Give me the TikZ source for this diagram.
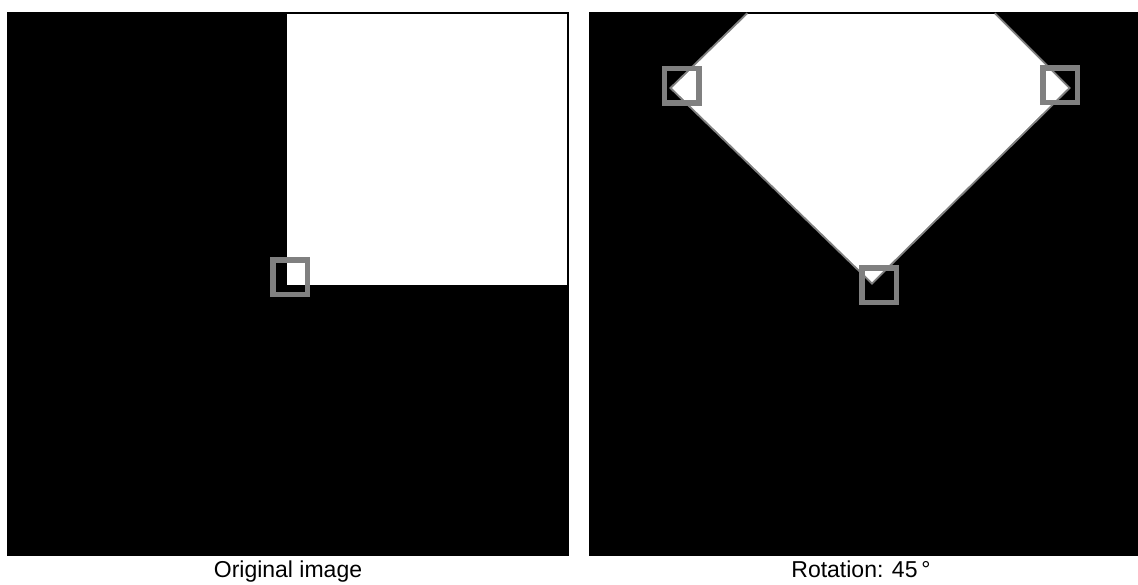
\documentclass[tikz,border=0pt]{standalone}
\usepackage{fontspec}
\setmainfont{Liberation Sans}
\definecolor{mk}{RGB}{128,128,128}
\begin{document}
\begin{tikzpicture}[x=1pt,y=-1pt,
  marker/.style={draw=mk,line width=5.5pt},
  caption/.style={font=\fontsize{23}{23}\selectfont,anchor=base,inner sep=0pt}]
\useasboundingbox (0,0) rectangle (1138,584);
\fill[white] (0,0) rectangle (1138,584);
% left panel
\fill[black] (7,12) rectangle (569,556);
\fill[white] (287,14) rectangle (567,285);
\draw[marker] (290,277) +(-17.25,-17.25) rectangle +(17.25,17.25);
% right panel
\fill[black] (589,12) rectangle (1138,556);
\draw[mk,line width=4pt,line join=miter] (748,14) -- (672,88) -- (872,282) -- (1068,88) -- (994,14);
\fill[white] (748,14) -- (672,88) -- (872,282) -- (1068,88) -- (994,14) -- cycle;
\draw[marker] (681.5,85.5) +(-17.25,-17.25) rectangle +(17.25,17.25);
\draw[marker] (1060,85) +(-17.25,-17.25) rectangle +(17.25,17.25);
\draw[marker] (879,285) +(-17.25,-17.25) rectangle +(17.25,17.25);
% captions
\node[caption] (capL) at (288,577) {Original image};
\node[caption] (capR) at (861,577) {Rotation: 45\,°};
\end{tikzpicture}
\end{document}
